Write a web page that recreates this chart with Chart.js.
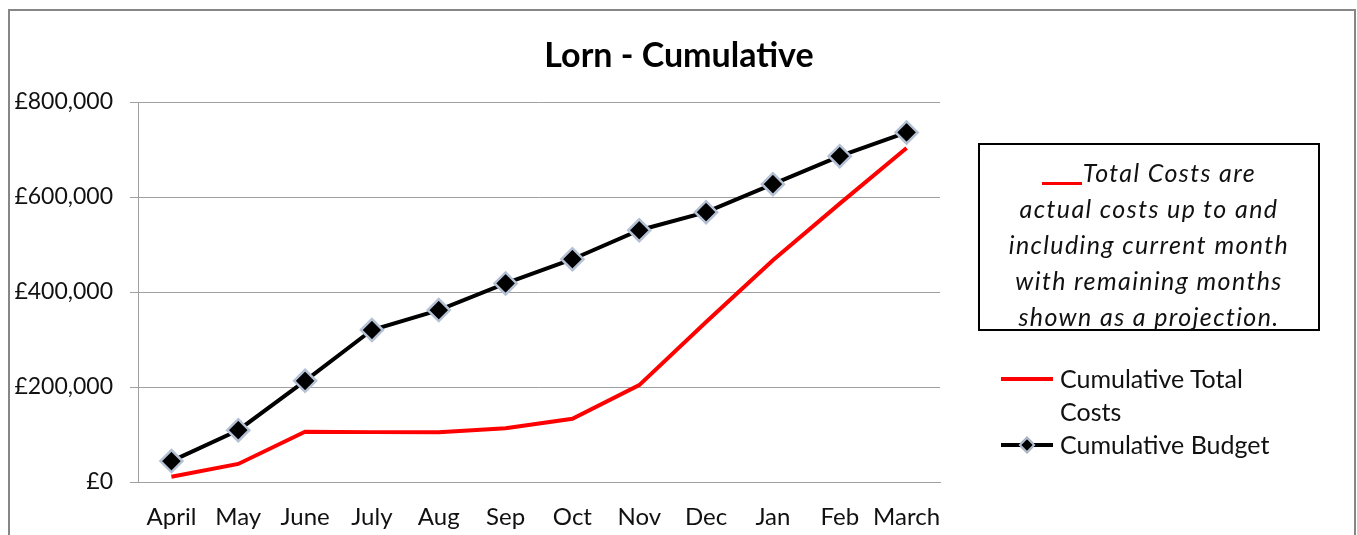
<!DOCTYPE html>
<html>
<head>
<meta charset="utf-8">
<script src="https://cdn.jsdelivr.net/npm/chart.js@4/dist/chart.umd.min.js"></script>
<style>
    html, body { margin: 0; padding: 0; background: #fff; overflow: hidden; }
    #wrap { position: relative; width: 1357px; height: 535px; }
    #frame { position: absolute; left: 8px; top: 9px; width: 1344px; height: 600px; border: 2px solid #868686; }
    #chart { position: absolute; left: 0; top: 0; }
    #note {
        position: absolute; left: 978px; top: 143px; width: 342px; height: 188px;
        border: 2px solid #000; font-family: Lato, sans-serif; font-style: italic;
        font-size: 25px; letter-spacing: 1.4px; line-height: 36px; text-align: center; color: #111;
        padding-top: 9px; box-sizing: border-box; white-space: nowrap;
    }
    #note .u { display: inline-block; width: 40px; height: 21px; border-bottom: 3px solid #ff0000; vertical-align: -3px; margin-right: 1px; }
    .leg { position: absolute; font-family: Lato, sans-serif; font-size: 25px; color: #111; line-height: 33px; }
    .swatch { position: absolute; height: 4px; width: 52px; }
    .diamond { position: absolute; width: 8px; height: 8px; background: #000; border: 2px solid #b4c0d4; transform: rotate(45deg); }
</style>
</head>
<body>
<div id="wrap">
    <canvas id="chart" width="1357" height="535"></canvas>
    <div id="frame"></div>
    <div id="note"><span class="u"></span>Total Costs are<br>actual costs up to and<br>including current month<br>with remaining months<br>shown as a projection.</div>
    <div class="swatch" style="left:1001px; top:377px; background:#ff0000;"></div>
    <div class="leg" style="left:1060px; top:362px;">Cumulative Total<br>Costs</div>
    <div class="swatch" style="left:1001px; top:443px; background:#000;"></div>
    <div class="diamond" style="left:1021px; top:439px;"></div>
    <div class="leg" style="left:1060px; top:428px;">Cumulative Budget</div>
</div>
<script>
// 月份
const months = ['April', 'May', 'June', 'July', 'Aug', 'Sep', 'Oct', 'Nov', 'Dec', 'Jan', 'Feb', 'March'];
// 累计总成本
const totalCosts = [11000, 38000, 106000, 105000, 105000, 113000, 133000, 204000, 337000, 467000, 586000, 703000];
// 累计预算
const budget = [44000, 109000, 213000, 320000, 362000, 418000, 469000, 530000, 568000, 627000, 686000, 736000];
// y轴刻度
const yTicks = [0, 200000, 400000, 600000, 800000];

// 标题（居中于整个画布）
const titlePlugin = {
    id: 'pageTitle',
    afterDraw: function(chart) {
        const ctx = chart.ctx;
        ctx.save();
        ctx.font = 'bold 34px Lato, sans-serif';
        ctx.fillStyle = '#000';
        ctx.textAlign = 'center';
        ctx.textBaseline = 'middle';
        ctx.fillText('Lorn - Cumulative', 679, 56);
        ctx.restore();
    }
};

function formatPound(v) {
    return '£' + v.toString().replace(/\B(?=(\d{3})+(?!\d))/g, ',');
}

document.addEventListener('DOMContentLoaded', function() {
    const ctx = document.getElementById('chart').getContext('2d');
    new Chart(ctx, {
        type: 'line',
        data: {
            labels: months,
            datasets: [
                {
                    label: 'Cumulative Budget',
                    data: budget,
                    borderColor: '#000',
                    borderWidth: 4,
                    pointStyle: 'rectRot',
                    pointRadius: 11,
                    pointBackgroundColor: '#000',
                    pointBorderColor: '#b4c0d4',
                    pointBorderWidth: 2.5,
                    tension: 0,
                    order: 0
                },
                {
                    label: 'Cumulative Total Costs',
                    data: totalCosts,
                    borderColor: '#ff0000',
                    borderWidth: 4,
                    pointRadius: 0,
                    tension: 0,
                    order: 1
                }
            ]
        },
        options: {
            responsive: false,
            animation: false,
            layout: { padding: { left: 0, right: 417, top: 102, bottom: 0 } },
            plugins: {
                legend: { display: false },
                tooltip: { enabled: false }
            },
            scales: {
                x: {
                    offset: true,
                    grid: { display: false, drawTicks: false },
                    border: { display: true, color: '#a0a0a0', width: 1 },
                    ticks: { color: '#111', font: { family: 'Lato', size: 24 }, padding: 21, maxRotation: 0, autoSkip: false },
                    afterFit: function(scale) { scale.height = 53; }
                },
                y: {
                    min: 0,
                    max: 800000,
                    afterBuildTicks: function(scale) {
                        scale.ticks = yTicks.map(function(v) { return { value: v }; });
                    },
                    grid: { color: '#a0a0a0', lineWidth: 1, tickLength: 8, drawTicks: true },
                    border: { display: true, color: '#a0a0a0', width: 1 },
                    ticks: {
                        color: '#111',
                        font: { family: 'Lato', size: 23 },
                        padding: 17,
                        callback: function(value) { return formatPound(value); }
                    },
                    afterFit: function(scale) { scale.width = 138; }
                }
            }
        },
        plugins: [titlePlugin]
    });
});
</script>
</body>
</html>
